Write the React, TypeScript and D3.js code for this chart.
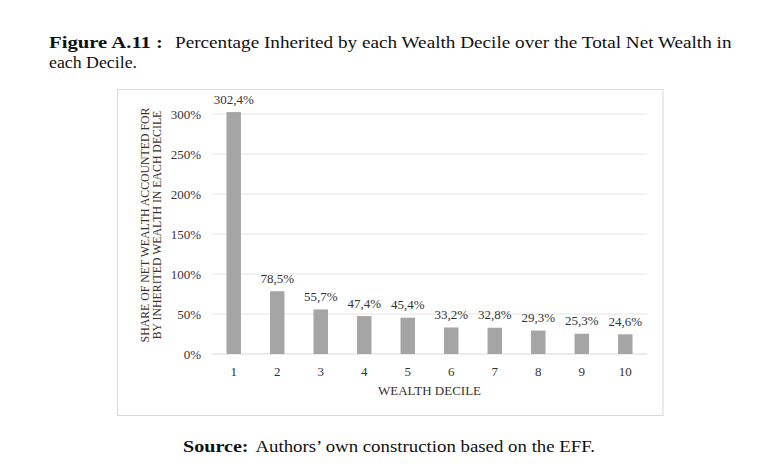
import React from "react";
import * as d3 from "d3";

const deciles = ["1", "2", "3", "4", "5", "6", "7", "8", "9", "10"];
const shares = [302.4, 78.5, 55.7, 47.4, 45.4, 33.2, 32.8, 29.3, 25.3, 24.6];
const yTicks = [0, 50, 100, 150, 200, 250, 300];
const titleBold = "Figure A.11 :";
const titleLine1 = "Percentage Inherited by each Wealth Decile over the Total Net Wealth in";
const titleLine2 = "each Decile.";
const yTitle1 = "SHARE OF NET WEALTH ACCOUNTED FOR";
const yTitle2 = "BY INHERITED WEALTH IN EACH DECILE";
const xTitle = "WEALTH DECILE";
const sourceBold = "Source:";
const sourceText = "Authors\u2019 own construction based on the EFF.";

const W = 779;
const H = 471;
const plotLeft = 212;
const plotRight = 647;
const plotTop = 114;
const plotBottom = 354;

const chartFont = "Liberation Serif, Times New Roman, serif";
const docFont = "Liberation Serif, serif";

export default function App() {
  const x = d3.scaleBand<string>().domain(deciles).range([plotLeft, plotRight]).paddingInner(0.667).paddingOuter(0.333);
  const y = d3.scaleLinear().domain([0, 300]).range([plotBottom, plotTop]);
  const fmt = (v: number) => v.toFixed(1).replace(".", ",") + "%";
  const yCenter = 225;

  return (
    <svg width={W} height={H} style={{ position: "absolute", left: 0, top: 0, background: "#fff" }}>
      <rect x={0} y={0} width={W} height={H} fill="#fff" />
      {/* Title */}
      <text x={49} y={47.7} style={{ fontFamily: docFont }} fontSize={16.5} fontWeight="bold" textLength={114} lengthAdjust="spacingAndGlyphs" fill="#111">
        {titleBold}
      </text>
      <text x={175} y={47.7} style={{ fontFamily: docFont }} fontSize={16.5} textLength={556.5} lengthAdjust="spacingAndGlyphs" fill="#111">
        {titleLine1}
      </text>
      <text x={49} y={68.3} style={{ fontFamily: docFont }} fontSize={16.5} textLength={88} lengthAdjust="spacingAndGlyphs" fill="#111">
        {titleLine2}
      </text>

      {/* Chart frame */}
      <rect x={117.5} y={89.5} width={545.5} height={326} fill="#fff" stroke="#d9d9d9" strokeWidth={1} />

      {/* Gridlines */}
      {yTicks.map((t) => (
        <line key={"g" + t} x1={plotLeft} x2={plotRight} y1={y(t)} y2={y(t)} stroke={t === 0 ? "#d9d9d9" : "#e6e6e6"} strokeWidth={1} />
      ))}

      {/* Y tick labels */}
      {yTicks.map((t) => (
        <text key={"yt" + t} x={201} y={y(t) + 4.5} textAnchor="end" style={{ fontFamily: chartFont }} fontSize={13} fill="#333">
          {t + "%"}
        </text>
      ))}

      {/* Bars */}
      {shares.map((v, i) => (
        <rect key={"b" + i} x={x(deciles[i])} y={y(v)} width={x.bandwidth()} height={plotBottom - y(v)} fill="#a5a5a5" />
      ))}

      {/* Value labels */}
      {shares.map((v, i) => (
        <text key={"l" + i} x={(x(deciles[i]) as number) + x.bandwidth() / 2} y={y(v) - 8.5} textAnchor="middle" style={{ fontFamily: chartFont }} fontSize={13} fill="#333">
          {fmt(v)}
        </text>
      ))}

      {/* X tick labels */}
      {deciles.map((d) => (
        <text key={"xt" + d} x={(x(d) as number) + x.bandwidth() / 2} y={375.5} textAnchor="middle" style={{ fontFamily: chartFont }} fontSize={13} fill="#333">
          {d}
        </text>
      ))}

      {/* X title */}
      <text x={429.5} y={395} textAnchor="middle" style={{ fontFamily: chartFont }} fontSize={13} fill="#333">
        {xTitle}
      </text>

      {/* Y title */}
      <text transform={`translate(148.5,${yCenter}) rotate(-90)`} textAnchor="middle" style={{ fontFamily: chartFont }} fontSize={11.8} fill="#333">
        {yTitle1}
      </text>
      <text transform={`translate(161,${yCenter}) rotate(-90)`} textAnchor="middle" style={{ fontFamily: chartFont }} fontSize={11.8} fill="#333">
        {yTitle2}
      </text>

      {/* Source */}
      <text x={183} y={451.7} style={{ fontFamily: docFont }} fontSize={16.5} fontWeight="bold" textLength={65.5} lengthAdjust="spacingAndGlyphs" fill="#111">
        {sourceBold}
      </text>
      <text x={255.4} y={451.7} style={{ fontFamily: docFont }} fontSize={16.5} textLength={339.6} lengthAdjust="spacingAndGlyphs" fill="#111">
        {sourceText}
      </text>
    </svg>
  );
}
